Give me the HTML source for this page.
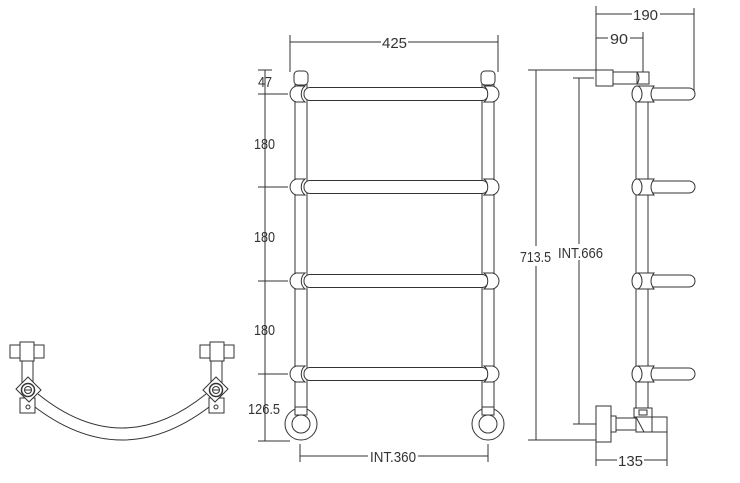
<!DOCTYPE html>
<html><head><style>html,body{margin:0;padding:0;background:#fff}svg{display:block}text{font-family:"Liberation Sans",sans-serif;font-size:15px;fill:#333}</style></head>
<body>
<svg width="740" height="483" viewBox="0 0 740 483" xmlns="http://www.w3.org/2000/svg">
<defs>
<g id="fk">
<rect x="304" y="-6.5" width="184" height="13" rx="6" fill="#fff" stroke="#333" stroke-width="1"/>
<path d="M296,-8 C288,-5 288,5 296,8 L305,8 C300,4 300,-4 305,-8 Z" fill="#fff" stroke="#333"/>
<path d="M296,-8 C288,-5 288,5 296,8 L305,8 C300,4 300,-4 305,-8 Z" fill="#fff" stroke="#333" transform="translate(789,0) scale(-1,1)"/>
</g>
<g id="sk">
<rect x="648" y="-6" width="47" height="12" rx="6" fill="#fff" stroke="#333"/>
<path d="M637,-8 L654,-8 Q648,0 654,8 L637,8 Z" fill="#fff" stroke="#333"/>
<ellipse cx="637" cy="0" rx="5" ry="8" fill="#fff" stroke="#333"/>
</g>
<g id="pf">
<rect x="10" y="345" width="12" height="13" fill="#fff" stroke="#333"/>
<rect x="33" y="345" width="11" height="13" fill="#fff" stroke="#333"/>
<rect x="20" y="342" width="14" height="19" fill="#fff" stroke="#333"/>
<rect x="22" y="361" width="11" height="22" fill="#fff" stroke="#333"/>
<rect x="20" y="398" width="15" height="15" fill="#fff" stroke="#333"/>
<circle cx="28" cy="407" r="2" fill="none" stroke="#333"/>
<polygon points="16,389 28,377 41,390 29,402" fill="#fff" stroke="#333"/>
<circle cx="28" cy="390" r="6.5" fill="#fff" stroke="#333" stroke-width="1.5"/>
<circle cx="28" cy="390" r="3.5" fill="none" stroke="#333"/>
<line x1="25" y1="390" x2="31" y2="390" stroke="#333"/>
</g>
</defs>
<g stroke="#333" fill="none" stroke-width="1">
<path d="M38,394 Q122,462 206,394"/>
<path d="M31,404 Q122,476 213,404"/>
<use href="#pf"/>
<use href="#pf" transform="translate(244,0) scale(-1,1)"/>

<line x1="290" y1="35" x2="290" y2="72"/><line x1="498" y1="35" x2="498" y2="72"/>
<line x1="290" y1="42" x2="381" y2="42"/><line x1="408" y1="42" x2="498" y2="42"/>
<line x1="265" y1="70" x2="265" y2="441"/>
<line x1="258" y1="70" x2="272" y2="70"/>
<line x1="258" y1="94" x2="288" y2="94"/>
<line x1="258" y1="187" x2="288" y2="187"/>
<line x1="258" y1="281" x2="288" y2="281"/>
<line x1="258" y1="374" x2="288" y2="374"/>
<line x1="258" y1="441" x2="290" y2="441"/>
<line x1="300" y1="444" x2="300" y2="462"/><line x1="488" y1="444" x2="488" y2="462"/>
<line x1="300" y1="456" x2="368" y2="456"/><line x1="418" y1="456" x2="488" y2="456"/>

<line x1="295" y1="84" x2="295" y2="410"/><line x1="307" y1="84" x2="307" y2="410"/>
<line x1="482" y1="84" x2="482" y2="410"/><line x1="494" y1="84" x2="494" y2="410"/>
<rect x="294" y="71" width="14" height="14" rx="4" fill="#fff"/>
<rect x="481" y="71" width="14" height="14" rx="4" fill="#fff"/>
<circle cx="301" cy="424" r="16" fill="#fff"/><circle cx="301" cy="424" r="9"/>
<circle cx="488" cy="424" r="16" fill="#fff"/><circle cx="488" cy="424" r="9"/>
<rect x="295" y="407" width="12" height="8" fill="#fff"/>
<rect x="482" y="407" width="12" height="8" fill="#fff"/>
</g>
<use href="#fk" transform="translate(0,94)"/>
<use href="#fk" transform="translate(0,187)"/>
<use href="#fk" transform="translate(0,281)"/>
<use href="#fk" transform="translate(0,374)"/>

<g stroke="#333" fill="none">
<line x1="596" y1="6" x2="596" y2="70"/>
<line x1="694" y1="8" x2="694" y2="96"/>
<line x1="643" y1="32" x2="643" y2="72"/>
<line x1="596" y1="14" x2="632" y2="14"/><line x1="660" y1="14" x2="694" y2="14"/>
<line x1="596" y1="38" x2="608" y2="38"/><line x1="630" y1="38" x2="643" y2="38"/>
<line x1="528" y1="70" x2="596" y2="70"/>
<line x1="573" y1="78" x2="594" y2="78"/>
<line x1="536" y1="70" x2="536" y2="246"/><line x1="536" y1="266" x2="536" y2="440"/>
<line x1="528" y1="440" x2="596" y2="440"/>
<line x1="579" y1="78" x2="579" y2="244"/><line x1="579" y1="260" x2="579" y2="424"/>
<line x1="573" y1="424" x2="596" y2="424"/>
<line x1="596" y1="442" x2="596" y2="466"/><line x1="667" y1="432" x2="667" y2="466"/>
<line x1="596" y1="460" x2="617" y2="460"/><line x1="644" y1="460" x2="667" y2="460"/>
<line x1="636" y1="86" x2="636" y2="408"/><line x1="648" y1="86" x2="648" y2="408"/>
<rect x="613" y="72" width="24" height="12" fill="#fff"/>
<path d="M637,72 L649,72 L649,84 L637,84 Q641,78 637,72 Z" fill="#fff"/>
<rect x="596" y="70" width="17" height="16" fill="#fff"/>
<rect x="616" y="418" width="20" height="12" fill="#fff"/>
<rect x="611" y="416" width="5" height="16" fill="#fff"/>
<rect x="596" y="406" width="15" height="36" fill="#fff"/>
<rect x="636" y="417" width="31" height="15" fill="#fff"/>
<path d="M636,417 L652,417 L652,432 L644,432 Z" fill="#fff"/>
<rect x="634" y="408" width="18" height="9" fill="#fff"/>
<rect x="639" y="410" width="8" height="5"/>
</g>
<use href="#sk" transform="translate(0,94)"/>
<use href="#sk" transform="translate(0,187)"/>
<use href="#sk" transform="translate(0,281)"/>
<use href="#sk" transform="translate(0,374)"/>

<text x="382" y="48" textLength="25" lengthAdjust="spacingAndGlyphs">425</text>
<text x="258" y="87" textLength="14" lengthAdjust="spacingAndGlyphs">47</text>
<text x="254" y="149" textLength="21" lengthAdjust="spacingAndGlyphs">180</text>
<text x="254" y="242" textLength="21" lengthAdjust="spacingAndGlyphs">180</text>
<text x="254" y="335" textLength="21" lengthAdjust="spacingAndGlyphs">180</text>
<text x="248" y="414" textLength="32" lengthAdjust="spacingAndGlyphs">126.5</text>
<text x="370" y="462" textLength="46" lengthAdjust="spacingAndGlyphs">INT.360</text>
<text x="633" y="20" textLength="25" lengthAdjust="spacingAndGlyphs">190</text>
<text x="610" y="44" textLength="18" lengthAdjust="spacingAndGlyphs">90</text>
<text x="520" y="262" textLength="31" lengthAdjust="spacingAndGlyphs">713.5</text>
<text x="558" y="258" textLength="45" lengthAdjust="spacingAndGlyphs">INT.666</text>
<text x="618" y="466" textLength="25" lengthAdjust="spacingAndGlyphs">135</text>
</svg>
</body></html>
